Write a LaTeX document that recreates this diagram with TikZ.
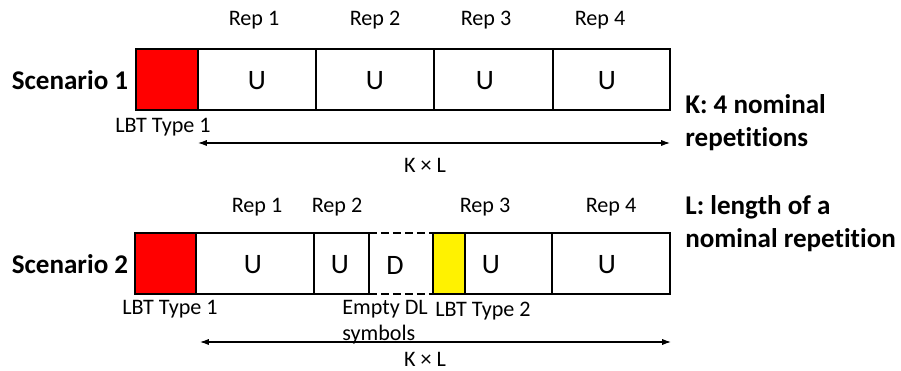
\documentclass[tikz,border=0pt]{standalone}
\usepackage{fontspec}
\setmainfont{Carlito}[Ligatures=NoCommon]
\usetikzlibrary{arrows.meta,positioning,calc}
\tikzset{
  cell/.style={draw,rectangle,line width=1.1pt,inner sep=0pt,outer sep=0pt,minimum height=1.22cm},
  lbtcell/.style={cell,fill=red},
  lbtcellb/.style={cell,fill=yellow},
  emptycell/.style={cell,draw=none},
  ulbl/.style={font=\fontsize{16}{19}\selectfont,inner sep=0pt},
  replbl/.style={font=\fontsize{12.6}{14.8}\selectfont,inner sep=0pt,align=left},
  sidelbl/.style={font=\fontsize{15.4}{18.8}\selectfont\bfseries,inner sep=0pt,align=left},
  dimarr/.style={{Latex[length=5pt,width=3.5pt]}-{Latex[length=5pt,width=3.5pt]},line width=0.6pt},
  dl/.style={line width=1.1pt,dash pattern=on 4.5pt off 2.3pt}
}
\begin{document}
\begin{tikzpicture}[x=0.02cm,y=-0.02cm]
  \useasboundingbox (0,0) rectangle (901,371);
  % Scenario 1
  \node[sidelbl] (sc1) at (70,80) {Scenario 1};
  \node[lbtcell, minimum width=1.24cm] (a0) at (167,79.5) {};
  \node[cell, minimum width=2.36cm] (a1) at (257,79.5) {};
  \node[cell, minimum width=2.36cm] (a2) at (375,79.5) {};
  \node[cell, minimum width=2.38cm] (a3) at (493.5,79.5) {};
  \node[cell, minimum width=2.34cm] (a4) at (611.5,79.5) {};
  \foreach \n/\x in {ua1/257,ua2/375,ua3/485,ua4/607}
    \node[ulbl] (\n) at (\x,81) {U};
  \foreach \n/\x/\t in {ra1/254/1,ra2/375/2,ra3/486/3,ra4/600/4}
    \node[replbl] (\n) at (\x,20) {Rep \t};
  \node[replbl] (lbta) at (163,127) {LBT Type 1};

  % K x L, scenario 1
  \coordinate (ka) at ($(a1.south west)+(0,33)$);
  \coordinate (kb) at ($(a4.south east)+(0,33)$);
  \draw[dimarr] (ka) -- (kb);
  \node[replbl] (kla) at (425,165) {K × L};

  % Scenario 2
  \node[sidelbl] (sc2) at (70,264) {Scenario 2};
  \node[lbtcell, minimum width=1.22cm] (b0) at (165.5,263.5) {};
  \node[cell, minimum width=2.36cm] (b1) at (255,263.5) {};
  \node[cell, minimum width=1.10cm] (b2) at (341.5,263.5) {};
  \node[emptycell, minimum width=1.28cm] (b3) at (401,263.5) {};
  \node[lbtcellb, minimum width=0.64cm] (b4) at (449,263.5) {};
  \node[cell, minimum width=1.74cm] (b5) at (508.5,263.5) {};
  \node[cell, minimum width=2.36cm] (b6) at (611,263.5) {};
  \draw[dl] (b3.north west) -- (b3.north east);
  \draw[dl] (b3.south west) -- (b3.south east);
  \foreach \n/\x/\t in {ub1/253/U,ub2/340/U,ub3/395/D,ub5/491/U,ub6/607/U}
    \node[ulbl] (\n) at (\x,265) {\t};
  \foreach \n/\x/\t in {rb1/257/1,rb2/337/2,rb3/485/3,rb4/611/4}
    \node[replbl] (\n) at (\x,207) {Rep \t};
  \node[replbl] (lbtb) at (170,309) {LBT Type 1};
  \node[replbl, anchor=north west] (edl) at (342,300) {Empty DL\\symbols};
  \node[replbl] (lbtc) at (483,311) {LBT Type 2};

  % K x L, scenario 2
  \coordinate (kc) at ($(b1.south west)+(4,48)$);
  \coordinate (kd) at ($(b6.south east)+(1,48)$);
  \draw[dimarr] (kc) -- (kd);
  \node[replbl] (klb) at (425,359) {K × L};

  % Legend
  \node[sidelbl, anchor=west] (kdef) at (685,123) {K: 4 nominal\\repetitions};
  \node[sidelbl, anchor=west] (ldef) at (685,224) {L: length of a\\nominal repetition};
\end{tikzpicture}
\end{document}
